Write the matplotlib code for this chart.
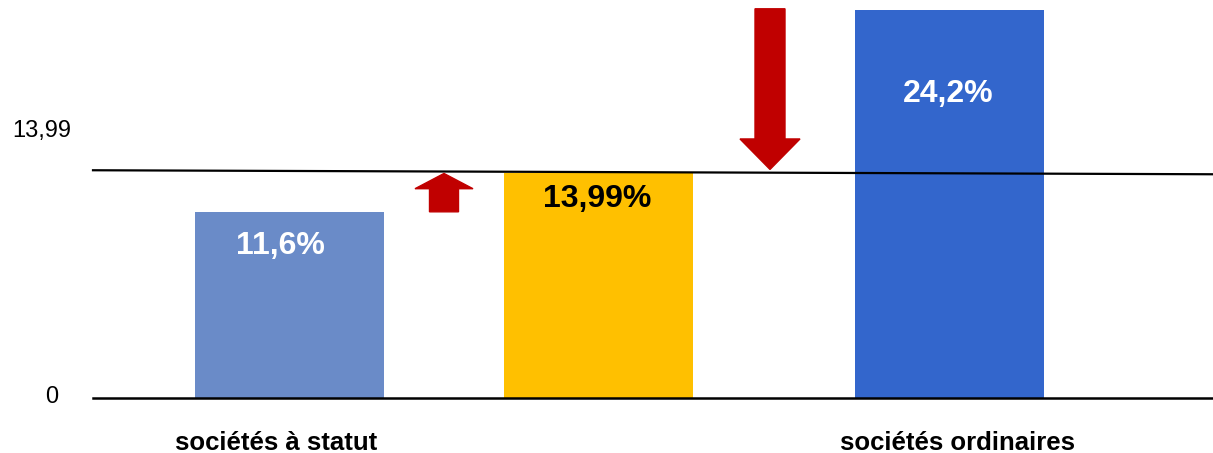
import matplotlib
matplotlib.use("Agg")
import matplotlib.pyplot as plt
from matplotlib.patches import FancyArrow

plt.rcParams['font.family'] = ['Liberation Sans', 'DejaVu Sans']

# ---- data ----
bar_values = [11.6, 13.99, 24.2]
bar_labels = ["11,6%", "13,99%", "24,2%"]
category_labels = ["sociétés à statut", "sociétés ordinaires"]
threshold = 13.99
ytick_labels = ["13,99", "0"]

# ---- style / layout ----
W, H = 1213, 453
bar_colors = ["#6A8BC8", "#FFC000", "#3366CC"]
label_colors = ["white", "black", "white"]
bar_centers = [289.5, 598.5, 949.5]
bar_width = 189
label_offsets = [(-9, -42), (-1, -34), (-1, -92)]
arrow_color = "#C00000"

fig = plt.figure(figsize=(W / 100, H / 100), dpi=100)
base_px = 398
ymax = base_px / 16.05
ax = fig.add_axes([0, (H - base_px) / H, 1, base_px / H])
ax.set_xlim(0, W)
ax.set_ylim(0, ymax)
ax.axis('off')

bars = ax.bar(bar_centers, bar_values, width=bar_width, color=bar_colors, zorder=2)

for c, v, t, col, (dx, dy) in zip(bar_centers, bar_values, bar_labels, label_colors, label_offsets):
    ax.annotate(t, xy=(c, v), xytext=(dx, dy), textcoords='offset pixels',
                ha='center', va='baseline', fontsize=23, fontweight='bold',
                color=col, zorder=4)

# baseline and threshold line
ax.plot([93, W], [0, 0], color='black', lw=1.8, zorder=3, clip_on=False)
ax.plot([93, W], [threshold + 0.2, threshold - 0.05], color='black', lw=1.6, zorder=3)

# arrows: up from bar 1 to threshold, down from bar 3 to threshold
up_len = threshold - bar_values[0]
ax.add_patch(FancyArrow(444, bar_values[0], 0, up_len, width=29, head_width=58,
                        head_length=0.95, length_includes_head=True,
                        color=arrow_color, zorder=3))
dn_len = threshold - bar_values[2]
ax.add_patch(FancyArrow(770, bar_values[2] + 0.05, 0, dn_len + 0.2, width=30, head_width=60,
                        head_length=1.9, length_includes_head=True,
                        color=arrow_color, zorder=3))

def px(x, y):
    return (x / W, 1 - y / H)

# y labels
fig.text(*px(42, 137), ytick_labels[0], ha='center', va='baseline', fontsize=17)
fig.text(*px(52, 403), ytick_labels[1], ha='center', va='baseline', fontsize=17)

# category labels
for (x, y), t in zip([(276.5, 450), (957.5, 450)], category_labels):
    fig.text(*px(x, y), t, ha='center', va='baseline', fontsize=18.5, fontweight='bold')

fig.savefig("out.png", dpi=100)
